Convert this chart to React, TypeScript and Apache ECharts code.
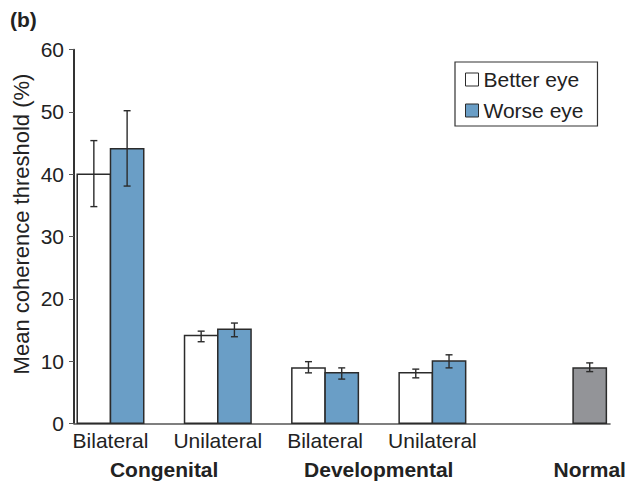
import React, { useEffect, useRef } from "react";
import * as echarts from "echarts";

const subCategories = ["Bilateral", "Unilateral", "Bilateral", "Unilateral"];
const groupNames = ["Congenital", "Developmental"];
const normalName = "Normal";

const betterMean = [40, 14.1, 8.9, 8.1];
const betterLow = [34.8, 13.1, 8.1, 7.3];
const betterHigh = [45.4, 14.8, 9.9, 8.7];

const worseMean = [44.1, 15.1, 8.1, 10.0];
const worseLow = [38.1, 13.9, 7.1, 8.9];
const worseHigh = [50.2, 16.1, 8.9, 11.0];

const normalMean = [8.9];
const normalLow = [8.3];
const normalHigh = [9.7];

const yTicks = [0, 10, 20, 30, 40, 50, 60];
const yTitle = "Mean coherence threshold (%)";

// layout constants
const NORMAL_POS = 4.466;
const BAR_W = 0.31;
const FONT = "'Liberation Sans', Arial, Helvetica, sans-serif";
const BLUE = "#6a9ec6";
const GRAY = "#939498";
const DARK = "#2b2b2b";

function makeBarRender(kind: "left" | "right" | "center", fill: string) {
  return (params: any, api: any) => {
    const x = api.value(0);
    const m = api.value(1);
    const lo = api.value(2);
    const hi = api.value(3);
    const base = api.coord([x, 0]);
    const top = api.coord([x, m]);
    const bw = api.size([BAR_W, 0])[0];
    let left = base[0];
    if (kind === "left") left = base[0] - bw;
    if (kind === "center") left = base[0] - bw / 2;
    const ex = left + bw / 2;
    const yHi = api.coord([x, hi])[1];
    const yLo = api.coord([x, lo])[1];
    const cap = 3.5;
    const lineStyle = { stroke: DARK, lineWidth: 1.4 };
    return {
      type: "group",
      children: [
        {
          type: "rect",
          shape: { x: left, y: top[1], width: bw, height: base[1] - top[1] },
          style: { fill, stroke: DARK, lineWidth: 1.5 },
        },
        { type: "line", shape: { x1: ex, y1: yHi, x2: ex, y2: yLo }, style: lineStyle },
        { type: "line", shape: { x1: ex - cap, y1: yHi, x2: ex + cap, y2: yHi }, style: lineStyle },
        { type: "line", shape: { x1: ex - cap, y1: yLo, x2: ex + cap, y2: yLo }, style: lineStyle },
      ],
    };
  };
}

function makeTextRender(texts: string[], dy: number, bold: boolean) {
  return (params: any, api: any) => {
    const p = api.coord([api.value(0), 0]);
    return {
      type: "text",
      x: p[0],
      y: p[1] + dy,
      style: {
        text: texts[params.dataIndex],
        fontSize: 21,
        fontWeight: bold ? "bold" : "normal",
        fontFamily: FONT,
        fill: "#222",
        align: "center",
        verticalAlign: "middle",
      },
    };
  };
}

export default function App() {
  const ref = useRef<HTMLDivElement>(null);
  useEffect(() => {
    if (!ref.current) return;
    const chart = echarts.init(ref.current, null, { renderer: "svg" });

    const betterData = betterMean.map((v, i) => [i, v, betterLow[i], betterHigh[i]]);
    const worseData = worseMean.map((v, i) => [i, v, worseLow[i], worseHigh[i]]);
    const normalData = normalMean.map((v, i) => [NORMAL_POS, v, normalLow[i], normalHigh[i]]);
    const subLabelData = subCategories.map((s, i) => [i, 0]);
    const groupLabelData = groupNames.map((g, i) => [i * 2 + 0.5, 0]);

    chart.setOption({
      animation: false,
      backgroundColor: "#ffffff",
      textStyle: { fontFamily: FONT },
      grid: { left: 74, right: 18, top: 49.7, bottom: 61.7, containLabel: false },
      graphic: [
        {
          type: "text",
          left: 10,
          top: 9,
          style: { text: "(b)", fontSize: 21, fontWeight: "bold", fill: "#222", fontFamily: FONT },
        },
        {
          type: "text",
          x: 21,
          y: 224,
          rotation: Math.PI / 2,
          style: {
            text: yTitle,
            fontSize: 22,
            fill: "#222",
            fontFamily: FONT,
            align: "center",
            verticalAlign: "middle",
          },
        },
      ],
      legend: {
        orient: "vertical",
        left: 455,
        top: 62,
        width: 139,
        borderColor: "#333",
        borderWidth: 1.2,
        padding: [7, 14, 5, 10],
        itemWidth: 13,
        itemHeight: 13,
        itemGap: 10,
        icon: "rect",
        textStyle: { fontSize: 21, color: "#222", fontFamily: FONT },
        data: [
          { name: "Better eye", itemStyle: { color: "#ffffff", borderColor: DARK, borderWidth: 1 } },
          { name: "Worse eye", itemStyle: { color: BLUE, borderColor: DARK, borderWidth: 1 } },
        ],
      },
      xAxis: {
        type: "value",
        min: -0.34,
        max: 4.655,
        axisLine: { show: true, onZero: false, lineStyle: { color: "#555", width: 1.6 } },
        axisTick: { show: false },
        axisLabel: { show: false },
        splitLine: { show: false },
      },
      yAxis: {
        type: "value",
        min: yTicks[0],
        max: yTicks[yTicks.length - 1],
        interval: 10,
        axisLine: { show: true, onZero: false, lineStyle: { color: "#333", width: 2 } },
        axisTick: { show: true, inside: false, length: 5, lineStyle: { color: "#555", width: 1 } },
        axisLabel: { fontSize: 21, color: "#222", margin: 10, fontFamily: FONT },
        splitLine: { show: false },
      },
      series: [
        {
          name: "Better eye",
          type: "custom",
          renderItem: makeBarRender("left", "#ffffff"),
          itemStyle: { color: "#ffffff", borderColor: DARK },
          data: betterData,
          z: 3,
        },
        {
          name: "Worse eye",
          type: "custom",
          renderItem: makeBarRender("right", BLUE),
          itemStyle: { color: BLUE, borderColor: DARK },
          data: worseData,
          z: 3,
        },
        {
          name: normalName,
          type: "custom",
          renderItem: makeBarRender("center", GRAY),
          itemStyle: { color: GRAY },
          data: normalData,
          z: 3,
        },
        {
          name: "subLabels",
          type: "custom",
          silent: true,
          renderItem: makeTextRender(subCategories, 17, false),
          data: subLabelData,
        },
        {
          name: "groupLabels",
          type: "custom",
          silent: true,
          renderItem: makeTextRender(groupNames, 46, true),
          data: groupLabelData,
        },
        {
          name: "normalLabel",
          type: "custom",
          silent: true,
          renderItem: makeTextRender([normalName], 46, true),
          data: [[NORMAL_POS, 0]],
        },
      ],
    });
    return () => chart.dispose();
  }, []);
  return <div ref={ref} style={{ width: 628, height: 485, position: "absolute", left: 0, top: 0 }} />;
}
